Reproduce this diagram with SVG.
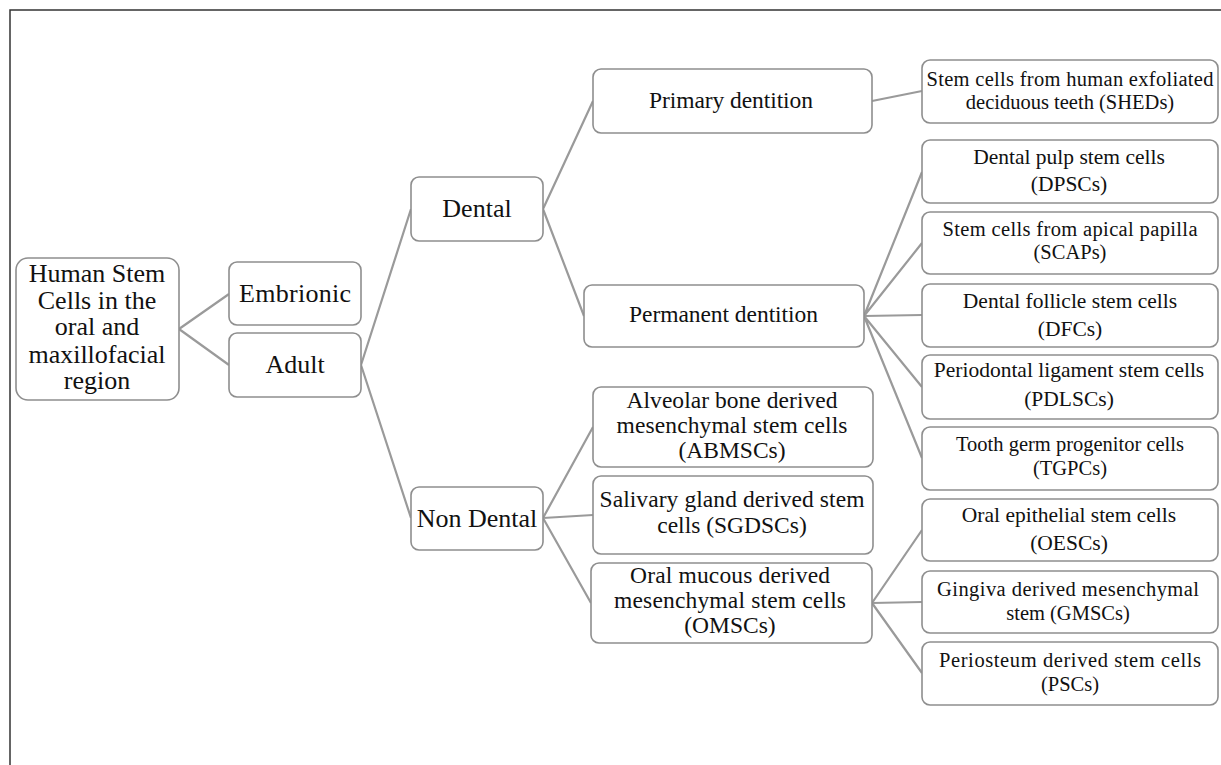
<svg xmlns="http://www.w3.org/2000/svg" width="1221" height="765" viewBox="0 0 1221 765">
<style>
.box{fill:#fff;stroke:#8e8e8e;stroke-width:1.6}
.t{font-family:"Liberation Serif","Times New Roman",serif;fill:#111;text-anchor:middle}
.l{font-size:26px}
.m{font-size:23.5px}
.s{font-size:21.5px}
.x{font-size:20.5px}
.c{stroke:#9a9a9a;stroke-width:2.2;fill:none}
</style>
<rect width="1221" height="765" fill="#fff"/>
<path d="M10 765 V10 H1221" fill="none" stroke="#333" stroke-width="1.5"/>
<g id="connectors">
<path class="c" d="M179 329 L229 294 M179 329 L229 365"/>
<path class="c" d="M361 365 L411 209 M361 365 L411 518"/>
<path class="c" d="M543 209 L593 101 M543 209 L584 316"/>
<path class="c" d="M872 101 L922 91"/>
<path class="c" d="M864 316 L922 172 M864 316 L922 243 M864 316 L922 315 M864 316 L922 387 M864 316 L922 458"/>
<path class="c" d="M543 518 L593 427 M543 518 L593 515 M543 518 L591 603"/>
<path class="c" d="M872 603 L922 530 M872 603 L922 602 M872 603 L922 673"/>
</g>
<g id="root"><rect class="box" x="16" y="258" width="163" height="142" rx="12"/>
<text class="t l" x="97" y="282">Human Stem</text>
<text class="t l" x="97" y="308.5">Cells in the</text>
<text class="t l" x="97" y="335">oral and</text>
<text class="t l" x="97" y="362.5">maxillofacial</text>
<text class="t l" x="97" y="389">region</text></g>
<g id="embrionic"><rect class="box" x="229" y="262" width="132" height="63" rx="8"/>
<text class="t l" x="295" y="301.5" textLength="112">Embrionic</text></g>
<g id="adult"><rect class="box" x="229" y="333" width="132" height="64" rx="8"/>
<text class="t l" x="295" y="373">Adult</text></g>
<g id="dental"><rect class="box" x="411" y="177" width="132" height="64" rx="8"/>
<text class="t l" x="477" y="217">Dental</text></g>
<g id="nondental"><rect class="box" x="411" y="487" width="132" height="63" rx="8"/>
<text class="t l" x="477" y="527">Non Dental</text></g>
<g id="primary"><rect class="box" x="593" y="69" width="279" height="64" rx="8"/>
<text class="t m" x="731" y="108" textLength="164">Primary dentition</text></g>
<g id="permanent"><rect class="box" x="584" y="285" width="280" height="62" rx="8"/>
<text class="t m" x="723.5" y="322" textLength="189">Permanent dentition</text></g>
<g id="abmsc"><rect class="box" x="593" y="387" width="280" height="80" rx="8"/>
<text class="t m" x="732" y="408" textLength="211">Alveolar bone derived</text>
<text class="t m" x="732" y="433" textLength="231">mesenchymal stem cells</text>
<text class="t m" x="732" y="458">(ABMSCs)</text></g>
<g id="sgdsc"><rect class="box" x="593" y="476" width="280" height="78" rx="8"/>
<text class="t m" x="732" y="506.5" textLength="265">Salivary gland derived stem</text>
<text class="t m" x="732" y="533">cells (SGDSCs)</text></g>
<g id="omsc"><rect class="box" x="591" y="563" width="281" height="80" rx="8"/>
<text class="t m" x="730" y="583" textLength="200">Oral mucous derived</text>
<text class="t m" x="730" y="608" textLength="232">mesenchymal stem cells</text>
<text class="t m" x="730" y="633">(OMSCs)</text></g>
<g id="shed"><rect class="box" x="922" y="60" width="296" height="63" rx="8"/>
<text class="t x" x="1070" y="86" textLength="287">Stem cells from human exfoliated</text>
<text class="t x" x="1070" y="109">deciduous teeth (SHEDs)</text></g>
<g id="dpsc"><rect class="box" x="922" y="140" width="296" height="63" rx="8"/>
<text class="t s" x="1069" y="164">Dental pulp stem cells</text>
<text class="t s" x="1069" y="191">(DPSCs)</text></g>
<g id="scap"><rect class="box" x="922" y="212" width="296" height="62" rx="8"/>
<text class="t x" x="1070" y="236" textLength="255">Stem cells from apical papilla</text>
<text class="t x" x="1070" y="259">(SCAPs)</text></g>
<g id="dfc"><rect class="box" x="922" y="284" width="296" height="63" rx="8"/>
<text class="t s" x="1070" y="308">Dental follicle stem cells</text>
<text class="t s" x="1070" y="336">(DFCs)</text></g>
<g id="pdlsc"><rect class="box" x="922" y="355" width="296" height="64" rx="8"/>
<text class="t s" x="1069" y="377">Periodontal ligament stem cells</text>
<text class="t s" x="1069" y="406">(PDLSCs)</text></g>
<g id="tgpc"><rect class="box" x="922" y="427" width="296" height="63" rx="8"/>
<text class="t x" x="1070" y="451">Tooth germ progenitor cells</text>
<text class="t x" x="1070" y="475">(TGPCs)</text></g>
<g id="oesc"><rect class="box" x="922" y="499" width="296" height="62" rx="8"/>
<text class="t s" x="1069" y="522">Oral epithelial stem cells</text>
<text class="t s" x="1069" y="550">(OESCs)</text></g>
<g id="gmsc"><rect class="box" x="922" y="571" width="296" height="62" rx="8"/>
<text class="t x" x="1068" y="596" textLength="262">Gingiva derived mesenchymal</text>
<text class="t x" x="1068" y="620">stem (GMSCs)</text></g>
<g id="psc"><rect class="box" x="922" y="642" width="296" height="63" rx="8"/>
<text class="t x" x="1070" y="667" textLength="262">Periosteum derived stem cells</text>
<text class="t x" x="1070" y="691">(PSCs)</text></g>
</svg>
